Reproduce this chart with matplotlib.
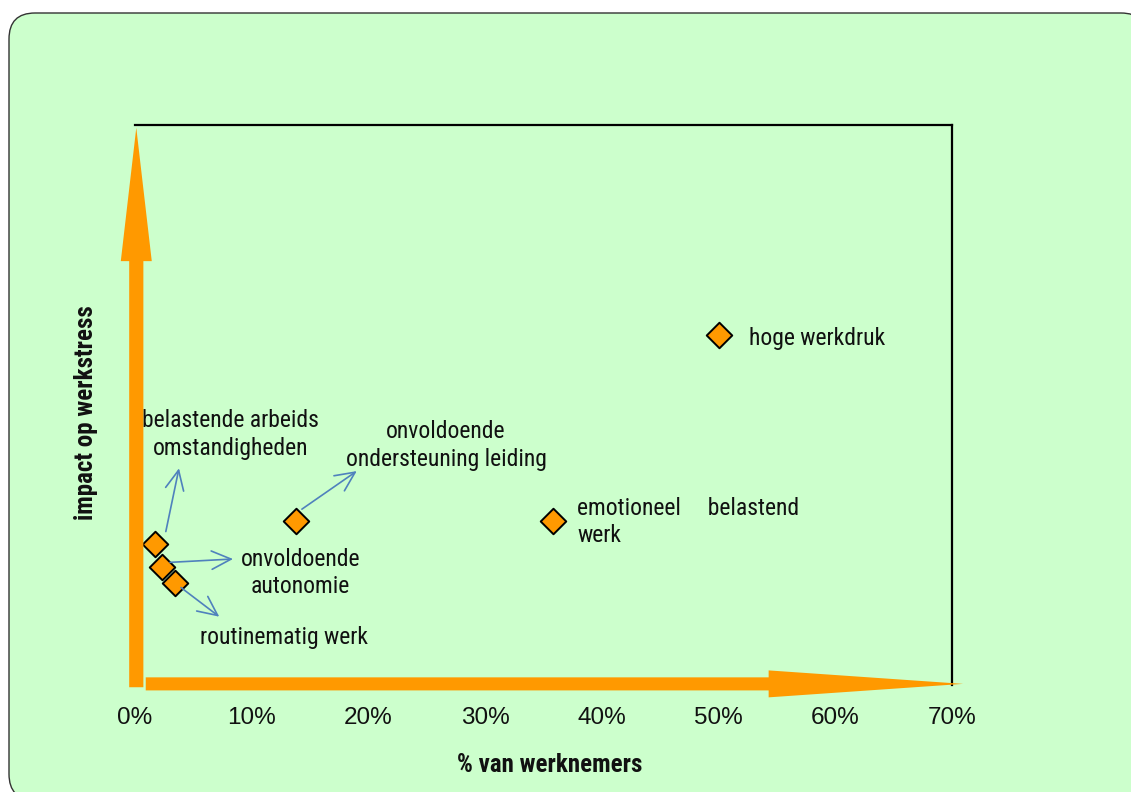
import matplotlib
matplotlib.use("Agg")
import matplotlib.pyplot as plt
from matplotlib.patches import FancyArrowPatch, FancyBboxPatch
from matplotlib.transforms import IdentityTransform

# Work-stress risk factors: share of employees vs. impact on work stress
categories = [
    "hoge werkdruk",
    "emotioneel belastend werk",
    "onvoldoende ondersteuning leiding",
    "belastende arbeidsomstandigheden",
    "onvoldoende autonomie",
    "routinematig werk",
]
pct_workers = [50.0, 35.8, 13.8, 1.7, 2.3, 3.4]
impact = [0.625, 0.292, 0.293, 0.252, 0.211, 0.182]

# Label texts and their anchor positions (data units)
label_texts = [
    "hoge werkdruk",
    "emotioneel     belastend\nwerk",
    "onvoldoende\nondersteuning leiding",
    "belastende arbeids\nomstandigheden",
    "onvoldoende\nautonomie",
    "routinematig werk",
]
label_x = [52.6, 37.9, 26.65, 8.2, 14.15, 12.8]
label_y = [0.619, 0.291, 0.428, 0.447, 0.200, 0.084]
label_ha = ["left", "left", "center", "center", "center", "center"]

# Leader arrows from the clustered points to their labels (start -> end)
leader_start = [None, None, (14.3, 0.314), (2.64, 0.274), (3.0, 0.219), (3.94, 0.174)]
leader_end = [None, None, (19.0, 0.382), (3.77, 0.387), (8.4, 0.225), (7.22, 0.122)]

xticks = [0, 10, 20, 30, 40, 50, 60, 70]
xtick_labels = ["0%", "10%", "20%", "30%", "40%", "50%", "60%", "70%"]

ORANGE = "#FF9900"
GREEN = "#CCFFCC"
BLUE = "#4F81BD"
NARROW = ["Roboto Condensed", "Liberation Sans", "DejaVu Sans"]

W, H, DPI = 1131, 792, 100
fig = plt.figure(figsize=(W / DPI, H / DPI), dpi=DPI, facecolor="white")

# rounded green panel behind everything
panel = FancyBboxPatch((9, -8), 1138, 787, boxstyle="round,pad=0,rounding_size=26",
                       transform=IdentityTransform(), facecolor=GREEN,
                       edgecolor="#333333", linewidth=1.0, zorder=-10)
fig.patches.append(panel)

ax = fig.add_axes([135 / W, 1 - 685 / H, (952 - 135) / W, (685 - 125) / H])
ax.set_zorder(1)
ax.set_facecolor("none")
ax.set_xlim(0, 70)
ax.set_ylim(0, 1)

for side in ["left", "bottom"]:
    ax.spines[side].set_visible(False)
for side in ["top", "right"]:
    ax.spines[side].set_linewidth(1.6)
    ax.spines[side].set_color("black")

ax.set_yticks([])
ax.set_xticks(xticks)
ax.set_xticklabels(xtick_labels, fontsize=17.5, family=["Liberation Sans", "DejaVu Sans"],
                   color="#111111")
ax.tick_params(axis="x", length=0, pad=16)

# axis titles
ax.text(0.508, -0.143, "% van werknemers", transform=ax.transAxes, ha="center",
        va="center", fontsize=18, fontweight="bold", family=NARROW, color="#111111")
ax.text(-0.060, 0.486, "impact op werkstress", transform=ax.transAxes, ha="center",
        va="center", rotation=90, fontsize=18, fontweight="bold", family=NARROW,
        color="#111111")

# data points
ax.scatter(pct_workers, impact, marker="D", s=13.0 ** 2, c=ORANGE,
           edgecolors="black", linewidths=1.4, zorder=3, clip_on=False)

# labels
for txt, lx, ly, ha in zip(label_texts, label_x, label_y, label_ha):
    ax.text(lx, ly, txt, ha=ha, va="center", fontsize=17, family=NARROW,
            color="#111111", linespacing=1.27, ma=ha, zorder=4)

# leader arrows
for s, e in zip(leader_start, leader_end):
    if s is None:
        continue
    arr = FancyArrowPatch(s, e, arrowstyle="->,head_length=14,head_width=6.6",
                          mutation_scale=1, color=BLUE, linewidth=1.2,
                          shrinkA=0, shrinkB=0, zorder=4, clip_on=False)
    ax.add_patch(arr)

# big orange axis arrows
y_arrow = FancyArrowPatch((0.11, -0.004), (0.11, 0.995),
                          arrowstyle="simple,head_length=96,head_width=22.3,tail_width=10.2",
                          mutation_scale=1, facecolor=ORANGE, edgecolor="none",
                          linewidth=0, shrinkA=0, shrinkB=0, zorder=5, clip_on=False)
x_arrow = FancyArrowPatch((0.92, 0.002), (70.95, 0.002),
                          arrowstyle="simple,head_length=140,head_width=19.4,tail_width=9.4",
                          mutation_scale=1, facecolor=ORANGE, edgecolor="none",
                          linewidth=0, shrinkA=0, shrinkB=0, zorder=5, clip_on=False)
ax.add_patch(y_arrow)
ax.add_patch(x_arrow)

fig.savefig("out.png", dpi=DPI, facecolor="white")
